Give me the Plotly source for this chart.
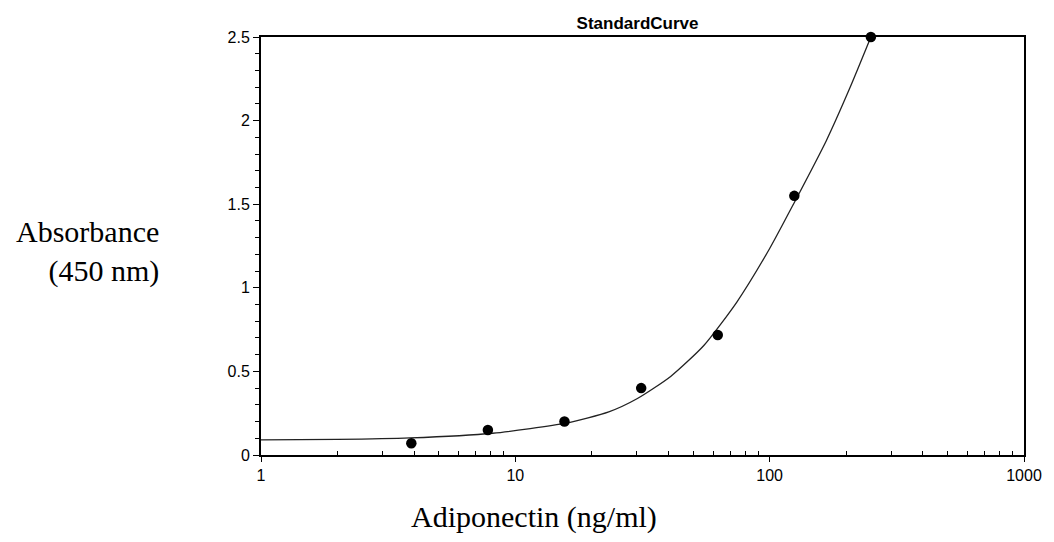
import plotly.graph_objects as go

# Standard points
conc = [3.9, 7.8, 15.6, 31.25, 62.5, 125, 250]
absorb = [0.07, 0.15, 0.2, 0.40, 0.718, 1.55, 2.5]

# Fitted curve
curve_x = [1, 2, 3.85, 8.15, 15.8, 23.3, 30.2, 40.8, 55.1, 74.3, 100, 124, 167, 206, 250]
curve_y = [0.09, 0.093, 0.102, 0.13, 0.19, 0.258, 0.338, 0.47, 0.655, 0.915, 1.235, 1.50, 1.88, 2.19, 2.5]

x_ticks = [1, 10, 100, 1000]
y_ticks = [0, 0.5, 1, 1.5, 2, 2.5]
y_labels = ["0", "0.5", "1", "1.5", "2", "2.5"]

# page offset (body margin 8px): plot area at page x 261..1029, y 37..455
W, H = 1046, 534
L, T, R, B = 253, 29, 25, 87
PW, PH = W - L - R, H - T - B


def px(xp):
    return (xp - 261) / PW


def py(yp):
    return (455 - yp) / PH


fig = go.Figure()
fig.add_trace(go.Scatter(x=curve_x, y=curve_y, mode="lines",
                         line=dict(color="#222", width=1.3, shape="spline", smoothing=0.6),
                         hoverinfo="skip", cliponaxis=False))
fig.add_trace(go.Scatter(x=conc, y=absorb, mode="markers",
                         marker=dict(color="black", size=10.5), cliponaxis=False))

fig.update_layout(
    width=W, height=H,
    margin=dict(l=L, r=R, t=T, b=B),
    paper_bgcolor="white", plot_bgcolor="white",
    showlegend=False,
    font=dict(family="Liberation Sans, Arial", size=16, color="black"),
    title=dict(text="<b>StandardCurve</b>", xref="paper", x=px(640), xanchor="center",
               yref="container", y=1 - (23 - 8) / H, yanchor="middle",
               font=dict(family="Liberation Sans, Arial", size=17, color="black")),
)
fig.update_xaxes(type="log", range=[0, 3], tickvals=x_ticks, ticktext=[str(v) for v in x_ticks],
                 showline=True, linecolor="black", linewidth=2, mirror=True,
                 showgrid=False, zeroline=False, ticks="outside", ticklen=5, tickcolor="black",
                 tickfont=dict(family="Liberation Sans, Arial", size=16),
                 minor=dict(ticks="inside", ticklen=4, tickcolor="black", showgrid=False,
                            tickvals=[2, 3, 4, 5, 6, 7, 8, 9, 20, 30, 40, 50, 60, 70, 80, 90,
                                      200, 300, 400, 500, 600, 700, 800, 900]))
fig.update_yaxes(range=[0, 2.5], tickvals=y_ticks, ticktext=y_labels,
                 showline=True, linecolor="black", linewidth=2, mirror=True,
                 showgrid=False, zeroline=False, ticks="outside", ticklen=6, tickcolor="black",
                 tickfont=dict(family="Liberation Sans, Arial", size=16),
                 minor=dict(ticks="outside", ticklen=4, tickcolor="black", dtick=0.1, showgrid=False))

fig.add_annotation(text="Absorbance<br>(450 nm)", x=px(160), y=py(252),
                   xref="paper", yref="paper", xanchor="right", yanchor="middle",
                   showarrow=False, align="right",
                   font=dict(family="Liberation Serif, Times New Roman", size=30, color="black"))
fig.add_annotation(text="Adiponectin (ng/ml)", x=px(536), y=py(517),
                   xref="paper", yref="paper", xanchor="center", yanchor="middle",
                   showarrow=False,
                   font=dict(family="Liberation Serif, Times New Roman", size=30, color="black"))

fig.write_html("out.html")
